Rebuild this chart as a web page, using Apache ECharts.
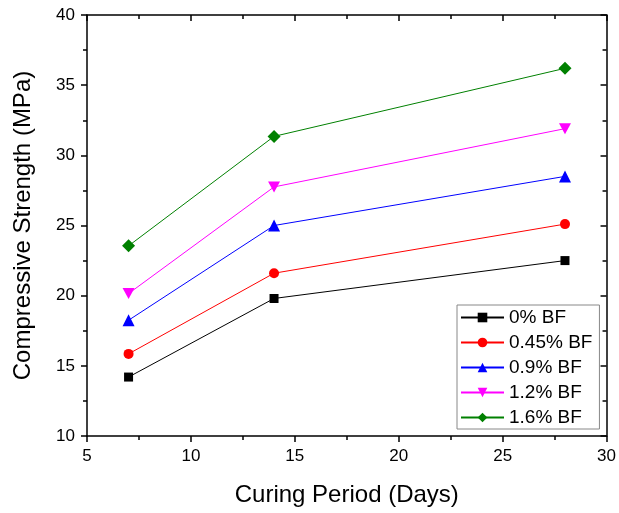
<!DOCTYPE html>
<html>
<head>
<meta charset="utf-8">
<script src="https://cdn.jsdelivr.net/npm/echarts@6/dist/echarts.min.js"></script>
<style>
  html, body { margin: 0; padding: 0; background: #fff; }
  #chart { width: 619px; height: 513px; }
</style>
</head>
<body>
<div id="chart"></div>
<script>
// 数据
var days = [7, 14, 28];
var names = ['0% BF', '0.45% BF', '0.9% BF', '1.2% BF', '1.6% BF'];
var bf0 = [14.2, 19.8, 22.5];
var bf045 = [15.85, 21.6, 25.1];
var bf09 = [18.25, 25.0, 28.5];
var bf12 = [20.15, 27.75, 31.9];
var bf16 = [23.55, 31.35, 36.2];

var colors = ['#000000', '#ff0000', '#0000ff', '#ff00ff', '#008000'];
var symbols = ['rect', 'circle', 'triangle', 'path://M0,0 L10,0 L5,9 Z', 'diamond'];
var sizes = [9, 10, 12, [12, 11], 13];
var values = [bf0, bf045, bf09, bf12, bf16];

function pairs(ys) {
    return days.map(function (d, i) { return [d, ys[i]]; });
}

var myChart = echarts.init(document.getElementById('chart'));

var font = 'Arial, "Liberation Sans", sans-serif';

var series = names.map(function (n, i) {
    return {
        name: n,
        type: 'line',
        data: pairs(values[i]),
        symbol: symbols[i],
        symbolSize: sizes[i],
        itemStyle: { color: colors[i] },
        lineStyle: { color: colors[i], width: 1 },
        z: 3
    };
});

var option = {
    animation: false,
    color: colors,
    grid: { left: 87, right: 8, top: 15, bottom: 77 },
    legend: {
        orient: 'vertical',
        left: 457,
        top: 305,
        padding: [3, 7, 2, 3],
        itemGap: 6,
        itemWidth: 43,
        itemHeight: 12,
        borderColor: '#888',
        borderWidth: 1,
        textStyle: { fontSize: 19, fontFamily: font, color: '#000' },
        data: names
    },
    xAxis: [
        {
            type: 'value', min: 5, max: 30, interval: 5,
            name: 'Curing Period (Days)', nameLocation: 'middle', nameGap: 47,
            nameTextStyle: { fontSize: 24, fontFamily: font, color: '#000' },
            axisLine: { lineStyle: { color: '#000', width: 1.5 } },
            axisTick: { length: 6, lineStyle: { color: '#000', width: 1.5 } },
            minorTick: { show: true, splitNumber: 2, length: 4, lineStyle: { color: '#000', width: 1.5 } },
            axisLabel: { fontSize: 17, fontFamily: font, color: '#000', margin: 12 },
            splitLine: { show: false }
        },
        {
            type: 'value', min: 5, max: 30, interval: 5, position: 'top',
            axisLine: { lineStyle: { color: '#000', width: 1.5 } },
            axisTick: { inside: true, length: 6, lineStyle: { color: '#000', width: 1.5 } },
            minorTick: { show: true, splitNumber: 2, length: 4, lineStyle: { color: '#000', width: 1.5 } },
            axisLabel: { show: false },
            splitLine: { show: false }
        }
    ],
    yAxis: [
        {
            type: 'value', min: 10, max: 40, interval: 5,
            name: 'Compressive Strength (MPa)', nameLocation: 'middle', nameGap: 52,
            nameTextStyle: { fontSize: 24, fontFamily: font, color: '#000' },
            axisLine: { lineStyle: { color: '#000', width: 1.5 } },
            axisTick: { length: 6, lineStyle: { color: '#000', width: 1.5 } },
            minorTick: { show: true, splitNumber: 2, length: 4, lineStyle: { color: '#000', width: 1.5 } },
            axisLabel: { fontSize: 17, fontFamily: font, color: '#000', margin: 12 },
            splitLine: { show: false }
        },
        {
            type: 'value', min: 10, max: 40, interval: 5, position: 'right',
            axisLine: { lineStyle: { color: '#000', width: 1.5 } },
            axisTick: { inside: true, length: 6, lineStyle: { color: '#000', width: 1.5 } },
            minorTick: { show: true, splitNumber: 2, length: 4, lineStyle: { color: '#000', width: 1.5 } },
            axisLabel: { show: false },
            splitLine: { show: false }
        }
    ],
    series: series
};

myChart.setOption(option);

window.addEventListener('resize', function () {
    myChart.resize();
});
</script>
</body>
</html>
